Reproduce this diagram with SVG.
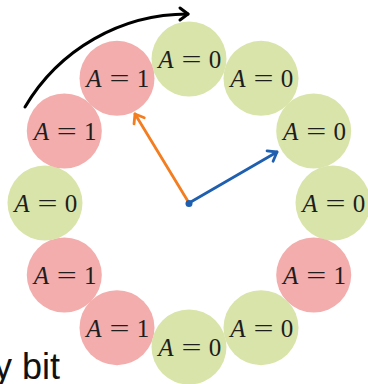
<svg xmlns="http://www.w3.org/2000/svg" width="368" height="384" viewBox="0 0 368 384">
<style>
.g{fill:#d9e4aa}
.r{fill:#f2adac}
.t{font-family:"Liberation Serif",serif;font-size:25px;fill:#1e1e1e;text-anchor:middle}
.a{font-style:italic}
.lbl{font-family:"Liberation Sans",sans-serif;font-size:36px;fill:#111}
</style>
<defs>
<marker id="mk" markerUnits="userSpaceOnUse" markerWidth="20" markerHeight="20" refX="0" refY="0" viewBox="-12 -10 20 20" orient="auto" overflow="visible"><path d="M-8,-6 L0,0 L-8,6" fill="none" stroke="#000" stroke-width="3" stroke-linecap="round" stroke-linejoin="round"/></marker>
<marker id="mo" markerUnits="userSpaceOnUse" markerWidth="20" markerHeight="20" refX="0" refY="0" viewBox="-12 -10 20 20" orient="auto" overflow="visible"><path d="M-8,-6 L0,0 L-8,6" fill="none" stroke="#f47d20" stroke-width="2.8" stroke-linecap="round" stroke-linejoin="round"/></marker>
<marker id="mb" markerUnits="userSpaceOnUse" markerWidth="20" markerHeight="20" refX="0" refY="0" viewBox="-12 -10 20 20" orient="auto" overflow="visible"><path d="M-8,-6 L0,0 L-8,6" fill="none" stroke="#1f5faf" stroke-width="2.8" stroke-linecap="round" stroke-linejoin="round"/></marker>
<g id="n0"><circle r="37.5"/><text class="t a" x="-23" y="9">A</text><text class="t" x="2.5" y="9" textLength="20" lengthAdjust="spacingAndGlyphs">=</text><text class="t" x="26" y="9">0</text></g>
<g id="n1"><circle r="37.5"/><text class="t a" x="-23" y="9">A</text><text class="t" x="2.5" y="9" textLength="20" lengthAdjust="spacingAndGlyphs">=</text><text class="t" x="26" y="9">1</text></g>
</defs>
<g id="nodes">
<g id="node1" class="g" transform="translate(189,59)"><use href="#n0"/></g>
<g id="node2" class="g" transform="translate(261,78.3)"><use href="#n0"/></g>
<g id="node3" class="g" transform="translate(313.7,131)"><use href="#n0"/></g>
<g id="node4" class="g" transform="translate(333,203)"><use href="#n0"/></g>
<g id="node5" class="r" transform="translate(313.7,275)"><use href="#n1"/></g>
<g id="node6" class="g" transform="translate(261,327.7)"><use href="#n0"/></g>
<g id="node8" class="r" transform="translate(117,327.7)"><use href="#n1"/></g>
<g id="node7" class="g" transform="translate(189,347)"><use href="#n0"/></g>
<g id="node9" class="r" transform="translate(64.3,275)"><use href="#n1"/></g>
<g id="node10" class="g" transform="translate(45,203)"><use href="#n0"/></g>
<g id="node11" class="r" transform="translate(64.3,131)"><use href="#n1"/></g>
<g id="node12" class="r" transform="translate(117,78.3)"><use href="#n1"/></g>
</g>
<g id="connectors" fill="none" stroke-linecap="round">
<path d="M25,107 A189,189 0 0 1 188,14" stroke="#000" stroke-width="3" marker-end="url(#mk)"/>
<line x1="189" y1="203" x2="135" y2="114" stroke="#f47d20" stroke-width="2.8" marker-end="url(#mo)"/>
<line x1="189" y1="203" x2="277" y2="152" stroke="#1f5faf" stroke-width="2.8" marker-end="url(#mb)"/>
<circle cx="189" cy="203.5" r="3.5" fill="#1f5faf"/>
</g>
<text class="lbl" x="-6" y="379">y bit</text>
</svg>
